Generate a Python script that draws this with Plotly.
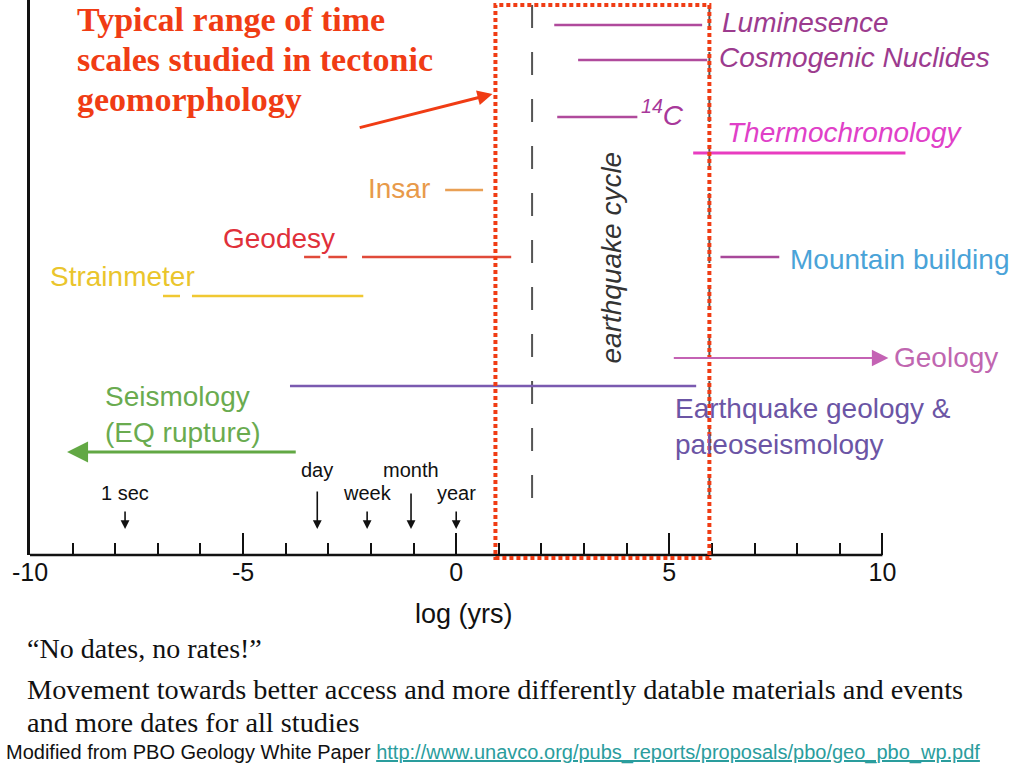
import plotly.graph_objects as go

# ---------------- data (x in log10 years) ----------------
methods = ["Luminesence", "Cosmogenic Nuclides", "14C", "Thermochronology", "Insar",
           "Geodesy", "Strainmeter", "Mountain building", "Earthquake geology", "Geology",
           "Seismology"]
x_start = [2.30, 2.86, 2.37, 5.56, -0.26, -2.21, -6.20, 6.20, -3.90, 5.07, -3.73]
x_end = [5.77, 5.89, 4.25, 10.54, 0.63, 1.29, -2.18, 7.58, 5.63, 10.14, -9.13]
row_y = [25, 60, 117, 153, 190, 257, 296, 257, 386, 358, 452]
line_colors = ["#b04a9c", "#b04a9c", "#b04a9c", "#e83cc0", "#e9a055",
               "#e04a3a", "#f0c832", "#a8489a", "#7a5ab0", "#c462b4", "#62a844"]
arrow_methods = ["Geology", "Seismology"]

# dashed (uncertain) extensions
dash_method = ["Geodesy", "Geodesy", "Strainmeter"]
dash_start = [-3.57, -3.00, -6.88]
dash_end = [-3.19, -2.56, -6.48]

# time markers
marker_labels = ["1 sec", "day", "week", "month", "year"]
marker_x = [-7.77, -3.26, -2.09, -1.06, 0.0]
marker_top = [510, 490, 510, 492, 510]
marker_label_y = [493, 470, 493, 470, 493]

# earthquake cycle boundary and highlighted range
eq_cycle_x = [1.78, 5.94]
box_range = [0.92, 5.94]

# axis ticks
axis_range = [-10, 10]
tick_vals = [-10, -5, 0, 5, 10]
tick_text = ["-10", "-5", "0", "5", "10"]
minor_vals = [v for v in range(-9, 10) if v % 5 != 0]

# labels
label_text = ["<i>Luminesence</i>", "<i>Cosmogenic Nuclides</i>", "<i><sup>14</sup>C</i>",
              "<i>Thermochronology</i>", "Insar", "Geodesy", "Strainmeter",
              "Mountain building", "Earthquake geology &<br>paleoseismology", "Geology",
              "Seismology<br>(EQ rupture)"]
label_x = [6.18, 6.13, 4.28, 6.30, -0.56, -5.53, -9.57, 7.78, 5.08, 10.22, -8.28]
label_y = [22, 57, 113, 132, 188, 238, 276, 259, 426, 357, 414]
label_anchor = ["left", "left", "left", "left", "right", "left", "left", "left", "left", "left", "left"]
label_colors = ["#9c3b8e", "#9c3b8e", "#a8389a", "#e040c8", "#e89a4a", "#e0303a", "#eac52c",
                "#4aa3d8", "#6b55a5", "#c066b0", "#6aab4f"]

title_lines = ["Typical range of time", "scales studied in tectonic", "geomorphology"]

RED = "#f03c14"
SANS = "Liberation Sans"
SERIF = "Liberation Serif"

X_MAX = 10.6  # visible extent to the right of the axis end
L_MARGIN = 30
PLOT_W = 878

fig = go.Figure()

# dashed earthquake-cycle lines
for xv in eq_cycle_x:
    fig.add_trace(go.Scatter(x=[xv, xv], y=[5, 500], mode="lines",
                             line=dict(color="#555555", width=2, dash="23px,24px"),
                             hoverinfo="skip"))

# main range lines
for m, xs, xe, yv, c in zip(methods, x_start, x_end, row_y, line_colors):
    if m in arrow_methods:
        continue
    w = 3 if m == "Thermochronology" else 2.5
    fig.add_trace(go.Scatter(x=[xs, xe], y=[yv, yv], mode="lines",
                             line=dict(color=c, width=w), hoverinfo="skip"))

# dashed extensions
for m, xs, xe in zip(dash_method, dash_start, dash_end):
    i = methods.index(m)
    fig.add_trace(go.Scatter(x=[xs, xe], y=[row_y[i], row_y[i]], mode="lines",
                             line=dict(color=line_colors[i], width=2.5), hoverinfo="skip"))

annotations = []
# arrows for open-ended ranges
for m in arrow_methods:
    i = methods.index(m)
    annotations.append(dict(x=x_end[i], y=row_y[i], ax=x_start[i], ay=row_y[i],
                            xref="x", yref="y", axref="x", ayref="y", text="",
                            showarrow=True, arrowhead=2,
                            arrowsize=1.4 if m == "Seismology" else 1.5,
                            arrowwidth=3 if m == "Seismology" else 2.2,
                            arrowcolor=line_colors[i]))

# time markers
for lab, xv, top, ly in zip(marker_labels, marker_x, marker_top, marker_label_y):
    annotations.append(dict(x=xv, y=529, ax=xv, ay=top, xref="x", yref="y", axref="x", ayref="y",
                            text="", showarrow=True, arrowhead=2, arrowsize=1.1, arrowwidth=1.6,
                            arrowcolor="#111111"))
    annotations.append(dict(x=xv, y=ly, xref="x", yref="y", text=lab, showarrow=False,
                            font=dict(family=SANS, size=20, color="#111111")))

# method labels
for t, xv, yv, anc, c in zip(label_text, label_x, label_y, label_anchor, label_colors):
    annotations.append(dict(x=xv, y=yv, xref="x", yref="y", text=t, showarrow=False,
                            xanchor=anc, yanchor="middle", align="left",
                            font=dict(family=SANS, size=28, color=c)))

# earthquake cycle label
annotations.append(dict(x=3.62, y=258, xref="x", yref="y", text="<i>earthquake cycle</i>",
                        showarrow=False, textangle=-90,
                        font=dict(family=SANS, size=28, color="#333333")))

# title and arrow
for k, t in enumerate(title_lines):
    annotations.append(dict(x=-8.95, y=19 + 40 * k, xref="x", yref="y", xanchor="left",
                            yanchor="middle", align="left", showarrow=False,
                            text="<b>" + t + "</b>",
                            font=dict(family=SERIF, size=34, color=RED)))
annotations.append(dict(x=0.85, y=94, ax=-2.30, ay=128, xref="x", yref="y", axref="x", ayref="y",
                        text="", showarrow=True, arrowhead=2, arrowsize=1.0, arrowwidth=3,
                        arrowcolor=RED))


def py(p):
    return (555 - p) / 555.0


def px(p):
    return (p - L_MARGIN) / PLOT_W


# axis title
annotations.append(dict(x=px(464), y=py(614), xref="paper", yref="paper", showarrow=False,
                        xanchor="center", yanchor="middle",
                        text="log (yrs)", font=dict(family=SANS, size=27, color="#111111")))

annotations.append(dict(x=px(25), y=py(648), xref="paper", yref="paper", xanchor="left",
                        yanchor="middle", showarrow=False, text="\u201cNo dates, no rates!\u201d",
                        font=dict(family=SERIF, size=28, color="#111111")))
annotations.append(dict(x=px(25), y=py(689), xref="paper", yref="paper", xanchor="left",
                        yanchor="middle", showarrow=False,
                        text="Movement towards better access and more differently datable materials and events",
                        font=dict(family=SERIF, size=28.3, color="#111111")))
annotations.append(dict(x=px(25), y=py(722), xref="paper", yref="paper", xanchor="left",
                        yanchor="middle", showarrow=False,
                        text="and more dates for all studies",
                        font=dict(family=SERIF, size=28.3, color="#111111")))
annotations.append(dict(x=px(4), y=py(752), xref="paper", yref="paper", xanchor="left",
                        yanchor="middle", showarrow=False,
                        text="Modified from PBO Geology White Paper "
                             "<a href='http://www.unavco.org/pubs_reports/proposals/pbo/geo_pbo_wp.pdf' "
                             "style='color:#2a9d9d;text-decoration:underline'>"
                             "http://www.unavco.org/pubs_reports/proposals/pbo/geo_pbo_wp.pdf</a>",
                        font=dict(family=SANS, size=20, color="#111111")))

shapes = [
    # x axis line (only up to 10)
    dict(type="line", xref="x", yref="paper", x0=axis_range[0], x1=axis_range[1], y0=0, y1=0,
         line=dict(color="#111111", width=2.5), layer="above"),
    # highlighted range box
    dict(type="rect", xref="x", yref="paper", x0=box_range[0], x1=box_range[1],
         y0=py(558), y1=py(5), line=dict(color=RED, width=4, dash="4px,3px"),
         fillcolor="rgba(0,0,0,0)", layer="above"),
]

fig.update_layout(
    width=1024, height=768,
    margin=dict(l=L_MARGIN, r=1024 - L_MARGIN - PLOT_W, t=0, b=213),
    paper_bgcolor="white", plot_bgcolor="white",
    showlegend=False,
    font=dict(family=SANS, size=20, color="#111111"),
    annotations=annotations,
    shapes=shapes,
    xaxis=dict(range=[axis_range[0], X_MAX], showgrid=False, zeroline=False, showline=False,
               tickmode="array", tickvals=tick_vals, ticktext=tick_text,
               ticks="inside", ticklen=22, tickwidth=2, tickcolor="#111111",
               tickfont=dict(family=SANS, size=25, color="#111111"),
               minor=dict(ticks="inside", ticklen=12, tickwidth=1.5, tickcolor="#111111",
                          tickvals=minor_vals, showgrid=False)),
    yaxis=dict(range=[555, 0], showgrid=False, zeroline=False, showline=True,
               linecolor="#111111", linewidth=2.5, showticklabels=False, ticks=""),
)

fig.write_html("out.html", config={"displayModeBar": False},
               post_script="document.body.style.margin='0';")
